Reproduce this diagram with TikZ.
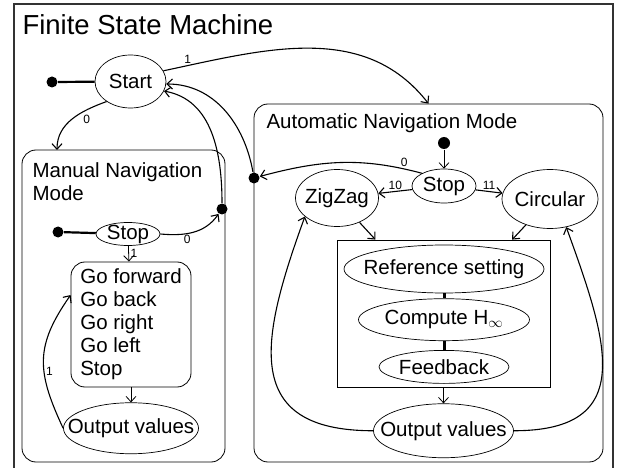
\documentclass[tikz,border=0pt]{standalone}
\usepackage{fontspec}
\setmainfont{Liberation Sans}
\usetikzlibrary{arrows.meta}
\usetikzlibrary{shapes.geometric}
\usetikzlibrary{positioning}

\begin{document}
\begin{tikzpicture}[x=1pt, y=1pt, ->, >={Straight Barb[length=5.5pt,width=10pt]}, line width=1.1pt, font=\fontsize{20.5}{23}\selectfont]
    \tikzstyle{state}=[draw, ellipse, line width=0.7pt, inner xsep=-60pt, inner ysep=-20pt]
    \tikzstyle{mode}=[draw, rounded corners=14pt, line width=0.8pt, inner sep=0pt]
    \tikzstyle{dot}=[circle, fill=black, inner sep=0pt, minimum size=11pt]
    \tikzstyle{lbl}=[font=\fontsize{12}{14}\selectfont, inner sep=1.5pt]
    \tikzstyle{bar}=[-, line width=3pt]

    \useasboundingbox (0,0) rectangle (619,-468);
    \draw[-, black!80, line width=1.2pt] (14,-468) -- (14,-4) -- (613,-4) -- (613,-468);
    \node[anchor=base west, inner sep=0pt, font=\fontsize{27.5}{30}\selectfont] (title) at (22,-35) {Finite State Machine};

    % top level
    \node[state, minimum width=71pt, minimum height=53pt] (start) at (130.5,-81.5) {Start};
    \node[dot] (init) at (52,-82) {};

    % manual mode
    \node[mode, minimum width=203pt, minimum height=312pt] (manual) at (123.5,-306) {};
    \node[anchor=north west, align=left, inner sep=0pt] (mtitle) at (32,-162) {Manual Navigation\\Mode};
    \coordinate (mentry) at (57,-150);
    \node[dot] (minit) at (58,-232) {};
    \node[state, minimum width=64pt, minimum height=23pt] (mstop) at (128,-234) {Stop};
    \node[mode, align=left, minimum width=120pt, minimum height=125pt] (moves) at (131,-324.5) {Go forward\\Go back\\Go right\\Go left\\Stop};
    \node[state, minimum width=135pt, minimum height=51pt] (mout) [below=15pt of moves] {Output values};
    \node[dot] (mjoin) at (222,-209) {};

    % automatic mode
    \node[mode, minimum width=349pt, minimum height=358pt] (automode) at (428.5,-283) {};
    \node[anchor=base west, inner sep=0pt] (atitle) at (266,-129) {Automatic Navigation Mode};
    \node[dot, minimum size=12pt] (ainit) at (444,-143) {};
    \node[state, minimum width=64pt, minimum height=34pt] (astop) at (444,-186) {Stop};
    \node[state, minimum width=83pt, minimum height=57pt] (zigzag) at (337,-198) {ZigZag};
    \node[state, minimum width=96pt, minimum height=59pt] (circular) at (550,-199) {Circular};
    \node[draw, line width=0.8pt, minimum width=213pt, minimum height=147pt] (ctrl) at (443.5,-313.5) {};
    \node[state, minimum width=200pt, minimum height=48pt] (refset) at (444,-269) {Reference setting};
    \node[state, minimum width=171pt, minimum height=42pt] (hinf) [below=5pt of refset] {Compute H$_\infty$};
    \node[state, minimum width=130pt, minimum height=33pt] (feedback) [below=9pt of hinf] {Feedback};
    \node[state, minimum width=140pt, minimum height=54pt] (aout) [below=16pt of ctrl] {Output values};
    \node[dot] (ajoin) at (254,-178) {};

    % transitions
    \draw[-, line width=2.2pt] (init) -- (start);
    \draw[-, line width=2.2pt] (minit) -- (mstop);
    \draw (start.18) to[out=12, in=128] node[lbl, above, pos=0.08] {1} (automode.north);
    \draw (start.220) to[out=200, in=90] node[lbl, below right, pos=0.35] {0} (mentry);
    \draw (mstop.east) to[out=-5, in=235] node[lbl, below, pos=0.4] {0} (mjoin);
    \draw (mjoin) to[out=90, in=-10] (start.-16);
    \draw (ajoin) to[out=100, in=0] (start.-4);
    \draw (astop.150) to[out=165, in=15] node[lbl, above, pos=0.1] {0} (ajoin);
    \draw[line width=0.8pt] (ainit) -- (astop);
    \draw (astop) -- node[lbl, above] {10} (zigzag);
    \draw (astop) -- node[lbl, above] {11} (circular);
    \draw (zigzag) -- (ctrl);
    \draw (circular) -- (ctrl);
    \draw[bar] (refset) -- (hinf);
    \draw[bar] (hinf) -- (feedback);
    \draw[line width=0.8pt] (ctrl) -- (aout);
    \draw (aout.west) to[out=180, in=250, looseness=1.5] (zigzag.210);
    \draw (aout.east) to[out=0, in=-70, looseness=1.5] (circular.-60);
    \draw[line width=0.8pt] (mstop) -- node[lbl, right] {1} (moves);
    \draw[line width=0.8pt] (moves) -- (mout);
    \draw (mout.west) to[out=115, in=235, looseness=1.2] node[lbl, right, pos=0.4] {1} (moves.154);
\end{tikzpicture}
\end{document}
